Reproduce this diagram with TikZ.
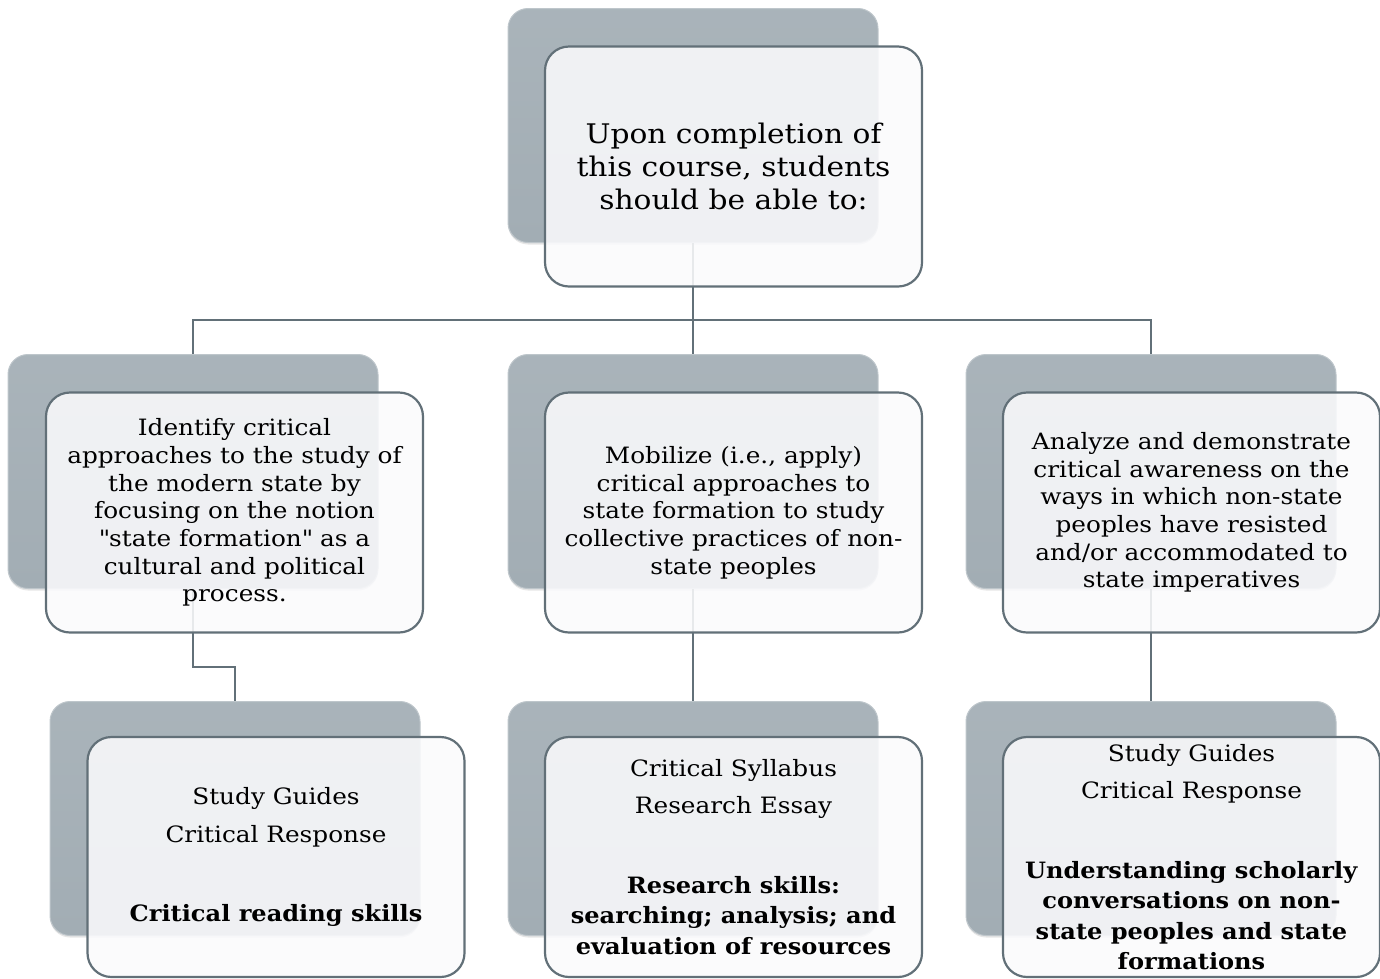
\documentclass[tikz,border=0pt]{standalone}
\usepackage{fontspec}
\setmainfont{DejaVu Serif}[FakeStretch=1.1, BoldFeatures={FakeStretch=1.07}]
\usetikzlibrary{positioning,shadows}
\definecolor{cardgray}{RGB}{162,173,180}
\definecolor{cardedge}{RGB}{98,112,120}
\definecolor{cardface}{RGB}{250,250,252}

\begin{document}
\begin{tikzpicture}[x=1pt,y=-1pt,
  backcard/.style={rounded corners=20pt, minimum width=370pt, minimum height=234pt,
    top color=cardgray!92!white, bottom color=cardgray, draw=cardgray!70!white, line width=1pt,
    drop shadow={opacity=0.2, shadow xshift=0pt, shadow yshift=-2pt}},
  frontcard/.style={rounded corners=24pt, minimum width=377pt, minimum height=240pt,
    fill=cardface, fill opacity=0.88, text opacity=1, draw=cardedge, line width=2.2pt,
    align=center, inner sep=4pt},
  joint/.style={draw=cardedge, line width=2.5pt}]
\useasboundingbox (0,0) rectangle (1380,978);
% back cards
\node[backcard] (btop) at (693,125.5) {};
\node[backcard] (bleft) at (193,471.5) {};
\node[backcard] (bmid) at (693,471.5) {};
\node[backcard] (bright) at (1151,471.5) {};
\node[backcard] (cleft) at (235,818.5) {};
\node[backcard] (cmid) at (693,818.5) {};
\node[backcard] (cright) at (1151,818.5) {};
% connectors
\coordinate (bus) at (693,320);
\coordinate (elbow) at (193,667);
\draw[joint] (btop.south) -- (bmid.north);
\draw[joint] (bleft.north) |- (bus) -| (bright.north);
\draw[joint] (bleft.south) -- (elbow) -| (cleft.north);
\draw[joint] (bmid.south) -- (cmid.north);
\draw[joint] (bright.south) -- (cright.north);
% front cards
\node[frontcard, font=\fontsize{27}{33}\selectfont] (ftop) at ([shift={(40.5,41)}]btop.center)
  {Upon completion of\\this course, students\\should be able to:};
\node[frontcard, font=\fontsize{22.5}{27.7}\selectfont] (fleft) at ([shift={(41.5,41)}]bleft.center)
  {Identify critical\\approaches to the study of\\the modern state by\\focusing on the notion\\\textquotedbl state formation\textquotedbl\ as a\\cultural and political\\process.};
\node[frontcard, font=\fontsize{22.5}{27.7}\selectfont] (fmid) at ([shift={(40.5,41)}]bmid.center)
  {Mobilize (i.e., apply)\\critical approaches to\\state formation to study\\collective practices of non-\\state peoples};
\node[frontcard, font=\fontsize{22.5}{27.7}\selectfont] (fright) at ([shift={(40.5,41)}]bright.center)
  {Analyze and demonstrate\\critical awareness on the\\ways in which non-state\\peoples have resisted\\and/or accommodated to\\state imperatives};
\node[frontcard, font=\fontsize{22.5}{30.5}\selectfont] (gleft) at ([shift={(41,38.5)}]cleft.center)
  {Study Guides\\[7pt]Critical Response\\[49pt]\textbf{Critical reading skills}};
\node[frontcard, font=\fontsize{22.5}{30.5}\selectfont] (gmid) at ([shift={(40.5,38.5)}]cmid.center)
  {Critical Syllabus\\[7pt]Research Essay\\[49pt]\textbf{Research skills:}\\\textbf{searching; analysis; and}\\\textbf{evaluation of resources}};
\node[frontcard, font=\fontsize{22.5}{30.5}\selectfont] (gright) at ([shift={(40.5,38.5)}]cright.center)
  {Study Guides\\[7pt]Critical Response\\[49pt]\textbf{Understanding scholarly}\\\textbf{conversations on non-}\\\textbf{state peoples and state}\\\textbf{formations}};
\end{tikzpicture}
\end{document}
